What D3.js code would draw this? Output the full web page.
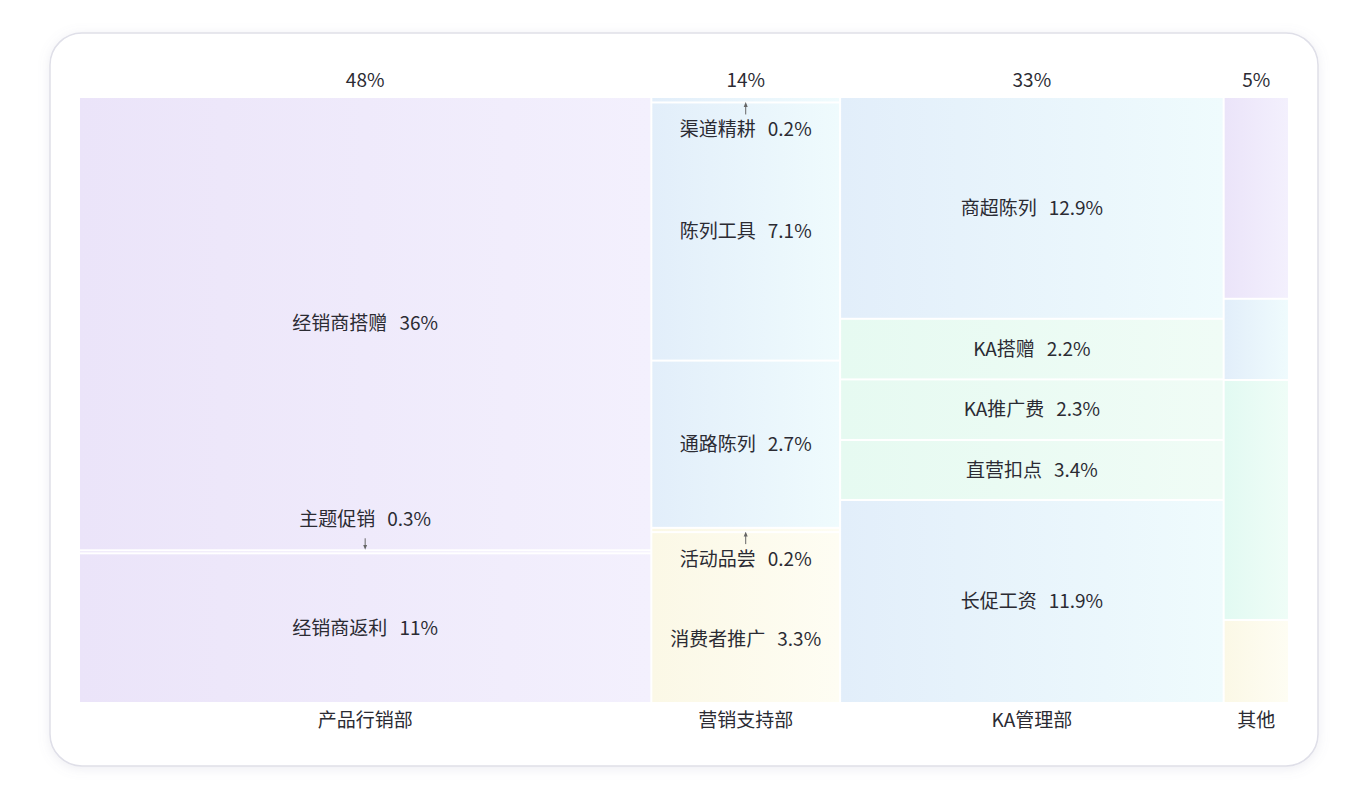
<!DOCTYPE html>
<html><head><meta charset="utf-8">
<script src="https://cdn.jsdelivr.net/npm/d3@7"></script>
<style>body{margin:0;background:#fff;font-family:"Noto Sans CJK SC","Noto Sans",sans-serif}</style>
</head><body><svg id="c" width="1368" height="800"></svg>
<script>
const categories = ["产品行销部","营销支持部","KA管理部","其他"];
const categoryLabels = ["48%","14%","33%","5%"];
const categoryShares = [47.3,15.6,31.7,5.4];
const segNames = [
  ["经销商搭赠","主题促销","经销商返利"],
  ["渠道精耕","陈列工具","通路陈列","活动品尝","消费者推广"],
  ["商超陈列","KA搭赠","KA推广费","直营扣点","长促工资"],
  ["","","",""]
];
const segLabels = [
  ["36%","0.3%","11%"],
  ["0.2%","7.1%","2.7%","0.2%","3.3%"],
  ["12.9%","2.2%","2.3%","3.4%","11.9%"],
  ["","","",""]
];
const segShares = [
  [74.8,0.5,24.7],
  [0.9,42.6,27.6,0.7,28.2],
  [36.6,10,10,9.9,33.5],
  [33.3,13.4,39.6,13.7]
];
const segColors = [
  ["p","p","p"],
  ["b","b","b","y","y"],
  ["b","g","g","g","b"],
  ["p","b","t","y"]
];
const grad = {p:["#ebe4f9","#f3f0fd"],b:["#e2eefa","#effbfd"],g:["#e6faf1","#f0fcf6"],t:["#e2faf2","#effdf7"],y:["#fbf8e6","#fefdf3"]};

const svg = d3.select("#c");
const defs = svg.append("defs");
const f = defs.append("filter").attr("id","sh").attr("x","-5%").attr("y","-5%").attr("width","110%").attr("height","110%");
f.append("feDropShadow").attr("dx",0).attr("dy",2).attr("stdDeviation",6).attr("flood-color","#8888aa").attr("flood-opacity",0.15);
Object.entries(grad).forEach(([k,v])=>{
  const g=defs.append("linearGradient").attr("id","g"+k).attr("x1","0").attr("x2","1").attr("y1","0").attr("y2","0");
  g.append("stop").attr("offset","0").attr("stop-color",v[0]);
  g.append("stop").attr("offset","1").attr("stop-color",v[1]);
});
defs.append("marker").attr("id","arr").attr("viewBox","0 0 10 10").attr("refX",5).attr("refY",5)
  .attr("markerWidth",5).attr("markerHeight",5).attr("orient","auto-start-reverse")
  .append("path").attr("d","M0,1L10,5L0,9z").attr("fill","#666");

svg.append("rect").attr("x",50).attr("y",33).attr("width",1268).attr("height",733).attr("rx",32)
  .attr("fill","#fff").attr("stroke","#dfdfe8").attr("stroke-width",1.5).attr("filter","url(#sh)");

const rectG=svg.append("g"), labG=svg.append("g");
const X0=80,X1=1290,Y0=98,Y1=704,gap=2;
const cum=[0]; categoryShares.forEach(v=>cum.push(cum[cum.length-1]+v));
const x=d3.scaleLinear().domain([0,cum[cum.length-1]]).range([X0,X1]);
const txt="#2b2b33";

categories.forEach((cat,i)=>{
  const xa=x(cum[i]), xb=x(cum[i+1])-gap, xm=(xa+xb)/2;
  labG.append("text").attr("x",xm).attr("y",87).attr("text-anchor","middle").attr("font-size",19).attr("fill",txt).text(categoryLabels[i]);
  labG.append("text").attr("x",xm).attr("y",727).attr("text-anchor","middle").attr("font-size",19).attr("fill",txt).text(cat);
  const sc=[0]; segShares[i].forEach(v=>sc.push(sc[sc.length-1]+v));
  const y=d3.scaleLinear().domain([0,sc[sc.length-1]]).range([Y0,Y1]);
  segShares[i].forEach((v,j)=>{
    const ya=y(sc[j]), yb=y(sc[j+1])-gap;
    rectG.append("rect").attr("x",xa).attr("y",ya).attr("width",xb-xa).attr("height",Math.max(yb-ya,1))
      .attr("fill","url(#g"+segColors[i][j]+")");
    if(!segNames[i][j]) return;
    const h=yb-ya;
    let ly=(ya+yb)/2;
    if(h<10){
      const up = i!==0;
      if(up){
        ly=yb+28;
        labG.append("line").attr("x1",xm).attr("x2",xm).attr("y1",yb+13).attr("y2",yb+3)
          .attr("stroke","#666").attr("stroke-width",1).attr("marker-end","url(#arr)");
      } else {
        ly=ya-32;
        labG.append("line").attr("x1",xm).attr("x2",xm).attr("y1",ya-13).attr("y2",ya-4)
          .attr("stroke","#666").attr("stroke-width",1).attr("marker-end","url(#arr)");
      }
    }
    if(i===1&&j===4) ly+=22;
    const t=labG.append("text").attr("x",xm).attr("y",ly).attr("dy","0.35em").attr("text-anchor","middle")
      .attr("font-size",19).attr("fill",txt);
    t.append("tspan").text(segNames[i][j]);
    t.append("tspan").attr("dx",12).text(segLabels[i][j]);
  });
});
</script></body></html>
